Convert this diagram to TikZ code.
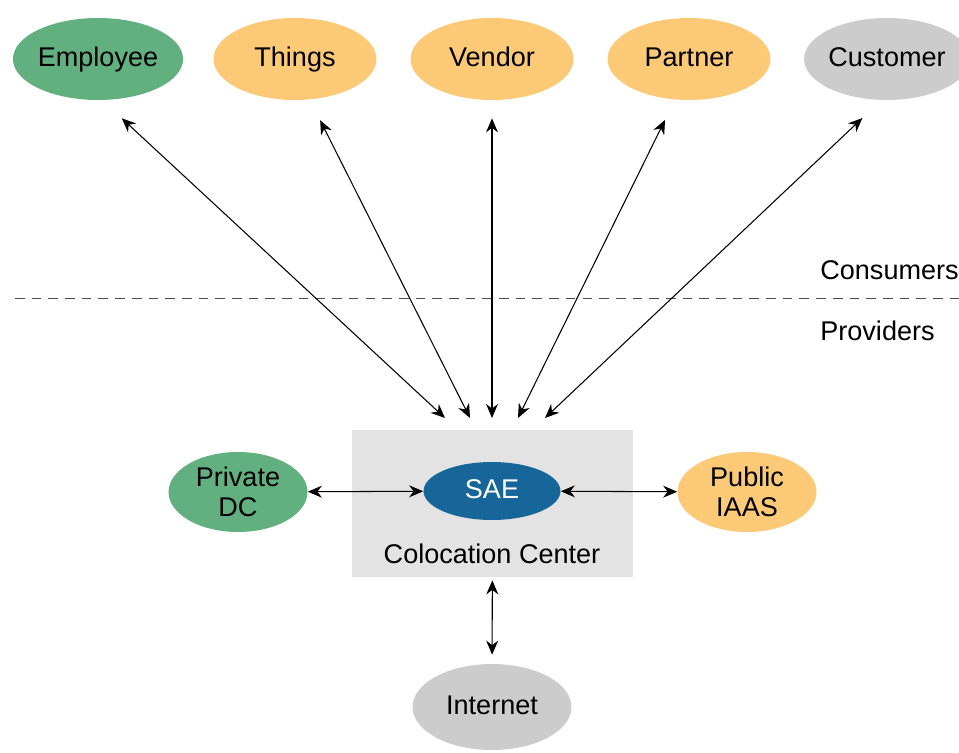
\documentclass[tikz,border=0pt]{standalone}
\usepackage{fontspec}
\setmainfont{Liberation Sans}
\usetikzlibrary{arrows.meta,shapes.geometric}
\definecolor{empgreen}{HTML}{62B07F}
\definecolor{thingorange}{HTML}{FCC977}
\definecolor{custgray}{HTML}{CCCCCC}
\definecolor{saeblue}{HTML}{17669A}
\definecolor{colocgray}{HTML}{E3E3E3}
\tikzset{
  cloud/.style={ellipse,inner sep=0pt,minimum width=3.26cm,minimum height=1.64cm,text height=11pt,text depth=3pt},
  side/.style={ellipse,inner sep=0pt,minimum width=2.78cm,minimum height=1.6cm,align=center,font=\fontsize{15.4}{17}\selectfont},
  link/.style={<->,line width=0.6pt},
}
\begin{document}
\begin{tikzpicture}[x=0.02cm,y=-0.02cm,>={Stealth[length=8pt,width=6.8pt]},every node/.style={font=\fontsize{15.4}{18}\selectfont}]
  \useasboundingbox (0,0) rectangle (959,753);
  % consumers
  \node[cloud,fill=empgreen] (emp) at (98,59) {Employee};
  \node[cloud,fill=thingorange] (things) at (295,59) {Things};
  \node[cloud,fill=thingorange] (vendor) at (492,59) {Vendor};
  \node[cloud,fill=thingorange] (partner) at (689,59) {Partner};
  \node[cloud,fill=custgray] (cust) at (887,59) {Customer};
  % split line
  \coordinate (cutl) at (15,298);
  \coordinate (cutr) at (959,298);
  \draw[dashed,dash pattern=on 5.5pt off 4pt,black!70,line width=0.5pt] (cutl) -- (cutr);
  \node[anchor=west,inner sep=0pt] (cons) at (820,270) {Consumers};
  \node[anchor=west,inner sep=0pt] (prov) at (820,331) {Providers};
  % providers
  \node[fill=colocgray,minimum width=5.62cm,minimum height=2.94cm] (coloc) at (492.5,503.5) {};
  \node[ellipse,fill=saeblue,text=white,inner sep=0pt,minimum width=2.74cm,minimum height=1.16cm,text height=11pt,text depth=3pt] (sae) at (492,491) {SAE};
  \node (colt) at (492,554) {Colocation Center};
  \node[side,fill=empgreen] (pdc) at (238,492) {Private\\DC};
  \node[side,fill=thingorange] (iaas) at (747,492) {Public\\IAAS};
  \node[cloud,fill=custgray,minimum width=3.18cm,minimum height=1.72cm] (inet) at (492,707) {Internet};
  % ends of the top links
  \coordinate (in1) at (445,418);
  \coordinate (in2) at (470,418);
  \coordinate (in3) at (492,418);
  \coordinate (in4) at (518,418);
  \coordinate (in5) at (545,418);
  \draw[link,shorten <=0.53cm] (emp.-84) -- (in1);
  \draw[link,shorten <=0.46cm] (things.-70) -- (in2);
  \draw[link,shorten <=0.36cm] (vendor.south) -- (in3);
  \draw[link,shorten <=0.45cm] (partner.-109) -- (in4);
  \draw[link,shorten <=0.52cm] (cust.-98) -- (in5);
  \draw[link] (pdc) -- (sae);
  \draw[link] (sae) -- (iaas);
  \draw[link,shorten <=0.06cm,shorten >=0.18cm] (coloc) -- (inet);
\end{tikzpicture}
\end{document}
